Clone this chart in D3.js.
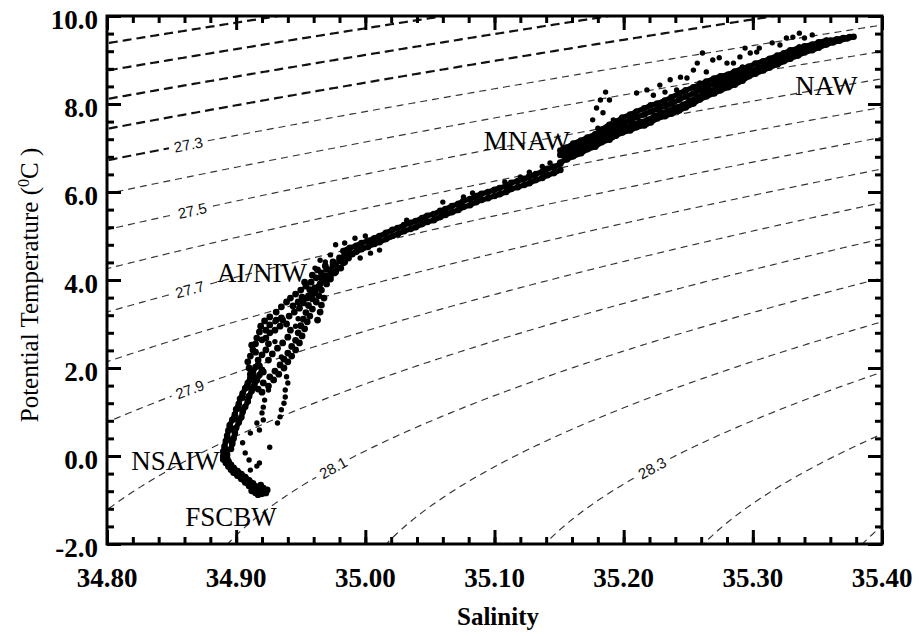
<!DOCTYPE html>
<html>
<head>
<meta charset="utf-8">
<script src="https://cdn.jsdelivr.net/npm/d3@7"></script>
<style>
  html, body { margin: 0; padding: 0; background: #fff; }
  svg { display: block; }
</style>
</head>
<body>
<svg id="chart" width="920" height="636"></svg>
<script>
// ---------- axes ----------
const salinityTicks = [34.8, 34.9, 35.0, 35.1, 35.2, 35.3, 35.4];
const salinityTickLabels = ["34.80", "34.90", "35.00", "35.10", "35.20", "35.30", "35.40"];
const temperatureTicks = [-2, 0, 2, 4, 6, 8, 10];
const temperatureTickLabels = ["-2.0", "0.0", "2.0", "4.0", "6.0", "8.0", "10.0"];

// ---------- isopycnals (sigma-theta) ----------
const sigmaLevels = [26.8, 26.9, 27.0, 27.1, 27.2, 27.3, 27.4, 27.5, 27.6, 27.7, 27.8, 27.9,
                     28.0, 28.1, 28.2, 28.3, 28.4, 28.5, 28.6];
const heavyLevels = [26.8, 26.9, 27.0, 27.1, 27.2];
const labelledLevels = ["27.3", "27.5", "27.7", "27.9", "28.1", "28.3"];
const labelSalinity = [34.863, 34.866, 34.864, 34.864, 34.975, 35.222];

// ---------- water-mass annotations ----------
const waterMassNames = ["NAW", "MNAW", "AI/NIW", "NSAIW", "FSCBW"];
const waterMassSalinity = [35.357, 35.125, 34.920, 34.853, 34.896];
const waterMassTemperature = [8.21, 6.96, 3.96, -0.32, -1.59];

// ---------- CTD observations [salinity, potential temperature] ----------
// Faroe-Shetland Channel bottom water up to the NSAIW bend
const bottomLimbWest = [[34.915,-0.84],[34.913,-0.76],[34.910,-0.68],[34.907,-0.60],[34.904,-0.52],[34.901,-0.45],[34.898,-0.38],[34.896,-0.31],[34.894,-0.24],[34.892,-0.16],[34.890,-0.08],[34.890,0.00],[34.891,0.07]];
const bottomLimbMid = [[34.918,-0.80],[34.915,-0.72],[34.912,-0.64],[34.909,-0.57],[34.906,-0.50],[34.903,-0.43],[34.900,-0.36],[34.898,-0.29],[34.896,-0.22],[34.894,-0.14],[34.892,-0.06],[34.892,0.02]];
const bottomLimbEast = [[34.920,-0.86],[34.918,-0.78],[34.916,-0.70],[34.913,-0.62],[34.910,-0.55],[34.907,-0.48],[34.904,-0.41],[34.901,-0.34],[34.898,-0.27],[34.896,-0.20],[34.894,-0.12],[34.893,-0.05],[34.893,0.03]];
const bottomCore = [[34.914,-0.80],[34.922,-0.81],[34.924,-0.77],[34.921,-0.73],[34.917,-0.88],[34.912,-0.79],[34.919,-0.66],[34.923,-0.84]];

// Arctic intermediate column
const lowerColumnWest = [[34.890,0.10],[34.891,0.22],[34.892,0.34],[34.893,0.46],[34.894,0.58],[34.895,0.70],[34.897,0.82],[34.899,0.94],[34.900,1.06],[34.902,1.18],[34.903,1.30],[34.905,1.42],[34.907,1.54],[34.909,1.66],[34.911,1.78],[34.913,1.90],[34.915,2.02]];
const lowerColumnEast = [[34.896,0.16],[34.897,0.28],[34.898,0.40],[34.899,0.52],[34.900,0.64],[34.902,0.76],[34.904,0.88],[34.905,1.00],[34.907,1.12],[34.909,1.24],[34.910,1.36],[34.912,1.48],[34.914,1.60],[34.916,1.72],[34.918,1.84],[34.920,1.96]];
const lowerColumnMid = [[34.893,0.13],[34.894,0.37],[34.896,0.61],[34.899,0.85],[34.902,1.09],[34.905,1.33],[34.909,1.57],[34.913,1.81],[34.917,2.05]];

const intermediateWest = [[34.912,1.73],[34.911,1.86],[34.910,2.00],[34.909,2.14],[34.911,2.27],[34.913,2.41],[34.915,2.55],[34.916,2.68],[34.918,2.82],[34.919,2.95],[34.922,3.07],[34.926,3.16],[34.931,3.27],[34.935,3.39],[34.939,3.50],[34.942,3.59],[34.946,3.68],[34.950,3.77],[34.954,3.86],[34.958,3.95],[34.962,4.05],[34.966,4.16],[34.970,4.25],[34.975,4.34],[34.980,4.43],[34.984,4.52]];
const intermediateLoop = [[34.920,1.91],[34.918,2.05],[34.917,2.18],[34.920,2.30],[34.923,2.41],[34.925,2.55],[34.923,2.68],[34.926,2.80],[34.930,2.86],[34.934,2.95],[34.939,3.00],[34.942,2.86],[34.940,2.70],[34.936,2.57],[34.932,2.45],[34.928,2.32],[34.925,2.18]];
const intermediateMid = [[34.936,3.09],[34.941,3.18],[34.945,3.27],[34.949,3.36],[34.952,3.48],[34.955,3.59],[34.959,3.70],[34.962,3.80],[34.965,3.91],[34.969,4.00],[34.973,4.09],[34.977,4.18],[34.981,4.27]];
const intermediateEast = [[34.920,1.45],[34.925,1.59],[34.929,1.73],[34.933,1.86],[34.937,2.00],[34.940,2.14],[34.943,2.27],[34.946,2.41],[34.949,2.57],[34.951,2.73],[34.953,2.89],[34.955,3.05],[34.957,3.18],[34.959,3.34],[34.962,3.50],[34.964,3.64],[34.966,3.77],[34.970,3.91],[34.973,4.02],[34.976,4.16],[34.979,4.27],[34.983,4.39],[34.987,4.50],[34.990,4.59]];
const intermediateEastInner = [[34.917,1.52],[34.921,1.66],[34.926,1.80],[34.930,1.93],[34.934,2.07],[34.937,2.20],[34.940,2.34],[34.943,2.49],[34.946,2.63],[34.948,2.80],[34.950,2.96],[34.952,3.11],[34.954,3.26],[34.956,3.42],[34.959,3.57],[34.961,3.71],[34.964,3.85],[34.967,3.98],[34.970,4.10],[34.973,4.22],[34.977,4.33],[34.981,4.45],[34.985,4.56]];
const intermediateColumn = [[34.963,3.09],[34.965,3.27],[34.966,3.43],[34.968,3.59]];
const intermediateCluster = [[34.912,2.52],[34.915,2.36],[34.920,2.64],[34.923,2.86],[34.926,2.98],[34.931,3.09],[34.935,3.14],[34.917,2.07],[34.921,1.91],[34.953,3.95],[34.959,4.11],[34.963,4.23],[34.969,4.32],[34.975,4.41],[34.980,4.50],[34.973,4.23],[34.966,4.05],[34.961,3.82],[34.956,3.64],[34.984,4.41],[34.948,3.50],[34.944,3.41],[34.951,3.61],[34.957,3.78]];
const intermediateScatter = [[34.939,1.80],[34.940,1.66],[34.938,1.50],[34.938,1.34],[34.937,1.20],[34.935,1.05],[34.934,0.89],[34.932,0.75],[34.926,0.20],[34.925,1.50],[34.922,1.27],[34.921,1.11],[34.920,0.98],[34.921,0.82],[34.918,0.59],[34.911,0.52],[34.905,0.30],[34.907,0.07],[34.910,-0.09],[34.918,-0.16],[34.916,-0.23],[34.911,-0.32],[34.916,0.75],[34.948,3.12],[34.946,2.95],[34.930,3.05],[34.935,2.25],[34.930,2.60],[34.977,4.80],[34.984,4.84],[34.992,4.95],[35.000,5.00],[35.005,4.84],[34.996,4.50],[35.004,4.61],[35.011,4.68],[34.969,4.41],[34.961,4.27],[34.973,4.57],[34.965,4.45]];

// Permanent thermocline (modified North Atlantic water)
const thermoclineUpper = [[34.983,4.66],[34.988,4.73],[34.993,4.78],[34.997,4.84],[35.002,4.89],[35.007,4.95],[35.011,5.00],[35.016,5.07],[35.021,5.14],[35.025,5.18],[35.030,5.25],[35.035,5.30],[35.039,5.34],[35.044,5.41],[35.048,5.46],[35.053,5.50],[35.058,5.57],[35.062,5.61],[35.067,5.68],[35.072,5.73],[35.076,5.80],[35.081,5.84],[35.086,5.91],[35.090,5.96],[35.095,6.00],[35.100,6.05],[35.104,6.09],[35.109,6.14],[35.113,6.21],[35.118,6.25],[35.123,6.30],[35.127,6.34],[35.132,6.41],[35.137,6.46],[35.141,6.53],[35.146,6.57],[35.151,6.64]];
const thermoclineLower = [[34.983,4.52],[34.988,4.59],[34.993,4.64],[34.997,4.70],[35.002,4.75],[35.007,4.82],[35.011,4.86],[35.016,4.93],[35.021,5.00],[35.025,5.04],[35.030,5.11],[35.035,5.16],[35.039,5.20],[35.044,5.27],[35.048,5.32],[35.053,5.36],[35.058,5.43],[35.062,5.48],[35.067,5.54],[35.072,5.59],[35.076,5.66],[35.081,5.70],[35.086,5.77],[35.090,5.82],[35.095,5.86],[35.100,5.91],[35.104,5.95],[35.109,6.00],[35.113,6.07],[35.118,6.11],[35.123,6.16],[35.127,6.20],[35.132,6.27],[35.137,6.32],[35.141,6.38],[35.146,6.43],[35.151,6.50]];
const thermoclineScatter = [[35.032,5.36],[35.060,5.77],[35.076,5.89],[35.083,5.98],[35.120,6.34],[35.127,6.45],[35.108,6.23],[35.137,6.58],[35.143,6.66]];

// North Atlantic water, surface band
const atlanticBand1 = [[35.151,6.67],[35.156,6.74],[35.161,6.81],[35.167,6.88],[35.172,6.97],[35.178,7.03],[35.183,7.13],[35.189,7.19],[35.194,7.28],[35.199,7.35],[35.205,7.40],[35.210,7.47],[35.216,7.51],[35.221,7.58],[35.226,7.67],[35.232,7.72],[35.237,7.78],[35.243,7.85],[35.248,7.92],[35.254,8.01],[35.259,8.10],[35.264,8.17],[35.270,8.24],[35.275,8.31],[35.281,8.38],[35.286,8.44],[35.292,8.53],[35.297,8.63],[35.302,8.69],[35.308,8.76],[35.313,8.83],[35.319,8.90],[35.324,8.97],[35.329,9.03],[35.335,9.10],[35.340,9.17],[35.346,9.22],[35.351,9.28],[35.357,9.35],[35.362,9.40],[35.367,9.44],[35.373,9.49],[35.378,9.53]];
const atlanticBand2 = [[35.154,6.81],[35.159,6.87],[35.164,6.95],[35.170,7.02],[35.175,7.10],[35.181,7.18],[35.186,7.26],[35.192,7.33],[35.197,7.42],[35.202,7.47],[35.208,7.54],[35.213,7.59],[35.219,7.64],[35.224,7.73],[35.229,7.79],[35.235,7.85],[35.240,7.92],[35.246,7.98],[35.251,8.07],[35.257,8.15],[35.262,8.24],[35.267,8.30],[35.273,8.37],[35.278,8.44],[35.284,8.51],[35.289,8.59],[35.295,8.68],[35.300,8.76],[35.305,8.83],[35.311,8.89],[35.316,8.96],[35.322,9.03],[35.327,9.10],[35.332,9.16],[35.338,9.23],[35.343,9.29],[35.349,9.33],[35.354,9.39],[35.360,9.44],[35.365,9.47],[35.370,9.50],[35.375,9.52]];
const atlanticBand3 = [[35.151,6.84],[35.156,6.91],[35.161,6.99],[35.167,7.06],[35.172,7.14],[35.178,7.20],[35.183,7.31],[35.189,7.41],[35.194,7.48],[35.199,7.57],[35.205,7.63],[35.210,7.70],[35.216,7.76],[35.221,7.83],[35.226,7.89],[35.232,7.95],[35.237,8.01],[35.243,8.10],[35.248,8.17],[35.254,8.24],[35.259,8.32],[35.264,8.39],[35.270,8.46],[35.275,8.51],[35.281,8.56],[35.286,8.63],[35.292,8.70],[35.297,8.76]];
const atlanticBand4 = [[35.151,6.94],[35.156,7.01],[35.161,7.10],[35.167,7.17],[35.172,7.24],[35.178,7.31],[35.183,7.42],[35.189,7.53],[35.194,7.60],[35.199,7.69],[35.205,7.76],[35.210,7.83],[35.216,7.90],[35.221,7.97],[35.226,8.01],[35.232,8.08],[35.237,8.15],[35.243,8.24],[35.248,8.31],[35.254,8.38],[35.259,8.44],[35.264,8.51],[35.270,8.58],[35.275,8.63],[35.281,8.67],[35.286,8.74],[35.292,8.81],[35.297,8.85],[35.302,8.92],[35.308,8.97],[35.313,9.03],[35.319,9.10],[35.324,9.15],[35.329,9.22],[35.335,9.26],[35.340,9.31],[35.346,9.35],[35.351,9.40],[35.357,9.44]];
const atlanticScatter = [[35.182,8.09],[35.189,8.09],[35.184,7.80],[35.176,7.64],[35.192,7.64],[35.187,7.48],[35.179,7.91],[35.180,7.45],[35.186,8.27],[35.210,8.25],[35.218,8.32],[35.228,8.43],[35.236,8.55],[35.244,8.61],[35.254,8.77],[35.261,9.16],[35.269,9.00],[35.274,9.05],[35.280,8.93],[35.285,8.93],[35.298,9.16],[35.305,9.27],[35.315,9.39],[35.326,9.50],[35.336,9.61],[35.346,9.57],[35.357,9.45],[35.228,8.02],[35.241,8.32],[35.259,8.48],[35.274,8.61],[35.292,8.84],[35.315,9.00],[35.336,9.30],[35.223,8.20],[35.232,8.27],[35.249,8.59],[35.264,8.73],[35.269,8.55],[35.290,9.07],[35.303,9.18],[35.321,9.34],[35.331,9.52],[35.340,9.50],[35.352,9.39],[35.257,8.93],[35.294,9.27]];

// continuous casts: drawn as a trace with their samples on top
const castProfiles = [
  bottomLimbWest, bottomLimbMid, bottomLimbEast,
  lowerColumnWest, lowerColumnEast,
  thermoclineUpper, thermoclineLower,
  atlanticBand1, atlanticBand2, atlanticBand3, atlanticBand4
];
// intermediate layer: individual samples only
const denseSamples = [
  bottomCore, lowerColumnMid,
  intermediateWest, intermediateLoop, intermediateMid, intermediateEast, intermediateEastInner,
  intermediateColumn, intermediateCluster
];
const sparseSamples = [intermediateScatter, thermoclineScatter, atlanticScatter];

// ---------- layout ----------
const plot = { left: 107, right: 882, top: 16, bottom: 544 };
const serif = "'Liberation Serif', 'Times New Roman', Times, serif";

const svg = d3.select("#chart");
const x = d3.scaleLinear().domain([34.8, 35.4]).range([plot.left, plot.right]);
const y = d3.scaleLinear().domain([-2, 10]).range([plot.bottom, plot.top]);

svg.append("defs").append("clipPath").attr("id", "plotClip")
  .append("rect")
  .attr("x", plot.left).attr("y", plot.top)
  .attr("width", plot.right - plot.left).attr("height", plot.bottom - plot.top);

// UNESCO 1980 equation of state at the surface, returns sigma-theta
function sigmaTheta(S, T) {
  const T2 = T * T, T3 = T2 * T, T4 = T3 * T, T5 = T4 * T;
  const rw = 999.842594 + 6.793952e-2 * T - 9.095290e-3 * T2 + 1.001685e-4 * T3
           - 1.120083e-6 * T4 + 6.536332e-9 * T5;
  const A = 8.24493e-1 - 4.0899e-3 * T + 7.6438e-5 * T2 - 8.2467e-7 * T3 + 5.3875e-9 * T4;
  const B = -5.72466e-3 + 1.0227e-4 * T - 1.6546e-6 * T2;
  const C = 4.8314e-4;
  return rw + A * S + B * Math.pow(S, 1.5) + C * S * S - 1000;
}
// temperature on an isopycnal at a given salinity (bisection)
function isopycnalT(S, level) {
  let lo = -3, hi = 14;
  if (sigmaTheta(S, lo) < level || sigmaTheta(S, hi) > level) return null;
  for (let i = 0; i < 60; i++) {
    const mid = (lo + hi) / 2;
    if (sigmaTheta(S, mid) > level) lo = mid; else hi = mid;
  }
  return (lo + hi) / 2;
}

// ---------- isopycnal contours ----------
const contourG = svg.append("g").attr("clip-path", "url(#plotClip)");
const labelG = svg.append("g");
const salinitySamples = d3.range(34.78, 35.4201, 0.002);

sigmaLevels.forEach(level => {
  const pts = [];
  salinitySamples.forEach(S => {
    const T = isopycnalT(S, level);
    if (T !== null) pts.push([S, T]);
  });
  const li = labelledLevels.indexOf(level.toFixed(1));
  let lab = null;
  if (li >= 0) {
    const S0 = labelSalinity[li];
    const T0 = isopycnalT(S0, level);
    const Ta = isopycnalT(S0 - 0.004, level), Tb = isopycnalT(S0 + 0.004, level);
    const ang = Math.atan2(y(Tb) - y(Ta), x(S0 + 0.004) - x(S0 - 0.004)) * 180 / Math.PI;
    lab = { cx: x(S0), cy: y(T0), ang, S0 };
  }
  const heavy = heavyLevels.includes(level);
  const outside = d => !lab || Math.hypot(x(d[0]) - lab.cx, y(d[1]) - lab.cy) > 19;

  const drawPart = (data, isHeavy) => {
    const line = d3.line().x(d => x(d[0])).y(d => y(d[1])).defined(outside);
    contourG.append("path")
      .attr("d", line(data))
      .attr("fill", "none")
      .attr("stroke", isHeavy ? "#111" : "#333")
      .attr("stroke-width", isHeavy ? 2.2 : 1.15)
      .attr("stroke-dasharray", isHeavy ? "9,5" : "7,5");
  };
  if (level === 27.3 && lab) {
    drawPart(pts.filter(d => d[0] <= lab.S0), true);
    drawPart(pts.filter(d => d[0] >= lab.S0), false);
  } else {
    drawPart(pts, heavy);
  }

  if (lab) {
    labelG.append("text")
      .attr("transform", `translate(${lab.cx},${lab.cy}) rotate(${lab.ang})`)
      .attr("text-anchor", "middle")
      .attr("dominant-baseline", "central")
      .attr("font-family", "'Liberation Sans', Arial, sans-serif")
      .attr("font-size", 15)
      .attr("fill", "#111")
      .text(labelledLevels[li]);
  }
});

// ---------- observations ----------
const dotG = svg.append("g").attr("clip-path", "url(#plotClip)");
const trace = d3.line().x(d => x(d[0])).y(d => y(d[1]));
castProfiles.forEach(p => {
  dotG.append("path")
    .attr("d", trace(p))
    .attr("fill", "none")
    .attr("stroke", "#000")
    .attr("stroke-width", 5.2)
    .attr("stroke-linejoin", "round")
    .attr("stroke-linecap", "round");
});
const drawSamples = (sets, r) => sets.forEach(set => {
  dotG.selectAll(null).data(set).enter().append("circle")
    .attr("cx", d => x(d[0]))
    .attr("cy", d => y(d[1]))
    .attr("r", r)
    .attr("fill", "#000");
});
drawSamples(castProfiles, 3.3);
drawSamples(denseSamples, 3.4);
drawSamples(sparseSamples, 2.7);

// ---------- frame and ticks ----------
const minorS = d3.range(34.8, 35.4001, 0.02);
const minorT = d3.range(-2, 10.001, 0.4);
const tickStyle = g => {
  g.select(".domain").remove();
  g.selectAll("line").attr("stroke", "#000").attr("stroke-width", 3);
  g.selectAll("text").remove();
};
[[d3.axisBottom, plot.bottom, x, salinityTicks, minorS, "t"],
 [d3.axisTop, plot.top, x, salinityTicks, minorS, "t"],
 [d3.axisLeft, plot.left, y, temperatureTicks, minorT, "l"],
 [d3.axisRight, plot.right, y, temperatureTicks, minorT, "l"]].forEach(([ax, pos, sc, major, minor, kind]) => {
  const tr = kind === "t" ? `translate(0,${pos})` : `translate(${pos},0)`;
  svg.append("g").attr("transform", tr)
    .call(ax(sc).tickValues(minor).tickSize(-7).tickFormat(""))
    .call(tickStyle);
  svg.append("g").attr("transform", tr)
    .call(ax(sc).tickValues(major).tickSize(-14).tickFormat(""))
    .call(tickStyle);
});

svg.append("rect")
  .attr("x", plot.left).attr("y", plot.top)
  .attr("width", plot.right - plot.left).attr("height", plot.bottom - plot.top)
  .attr("fill", "none").attr("stroke", "#000").attr("stroke-width", 3);

// tick labels
svg.append("g").selectAll("text").data(salinityTicks).enter().append("text")
  .attr("x", d => x(d)).attr("y", 587)
  .attr("text-anchor", "middle")
  .attr("font-family", serif).attr("font-size", 27).attr("font-weight", "bold").attr("fill", "#000")
  .text((d, i) => salinityTickLabels[i]);
svg.append("g").selectAll("text").data(temperatureTicks).enter().append("text")
  .attr("x", 98).attr("y", d => y(d) + 13)
  .attr("text-anchor", "end")
  .attr("font-family", serif).attr("font-size", 27).attr("font-weight", "bold").attr("fill", "#000")
  .text((d, i) => temperatureTickLabels[i]);

// axis titles
svg.append("text")
  .attr("x", 498).attr("y", 625)
  .attr("text-anchor", "middle")
  .attr("font-family", serif).attr("font-size", 25).attr("font-weight", "bold")
  .text("Salinity");

const yTitle = svg.append("text")
  .attr("transform", `translate(38,${(plot.top + plot.bottom) / 2 + 5}) rotate(-90)`)
  .attr("text-anchor", "middle")
  .attr("font-family", serif).attr("font-size", 25);
yTitle.append("tspan").text("Potential Temperature (");
yTitle.append("tspan").attr("dy", -9).attr("font-size", 16).text("0");
yTitle.append("tspan").attr("dy", 9).text("C )");

// water-mass labels
svg.append("g").selectAll("text").data(waterMassNames).enter().append("text")
  .attr("x", (d, i) => x(waterMassSalinity[i]))
  .attr("y", (d, i) => y(waterMassTemperature[i]))
  .attr("text-anchor", "middle")
  .attr("font-family", serif).attr("font-size", 27).attr("fill", "#000")
  .text(d => d);
</script>
</body>
</html>
